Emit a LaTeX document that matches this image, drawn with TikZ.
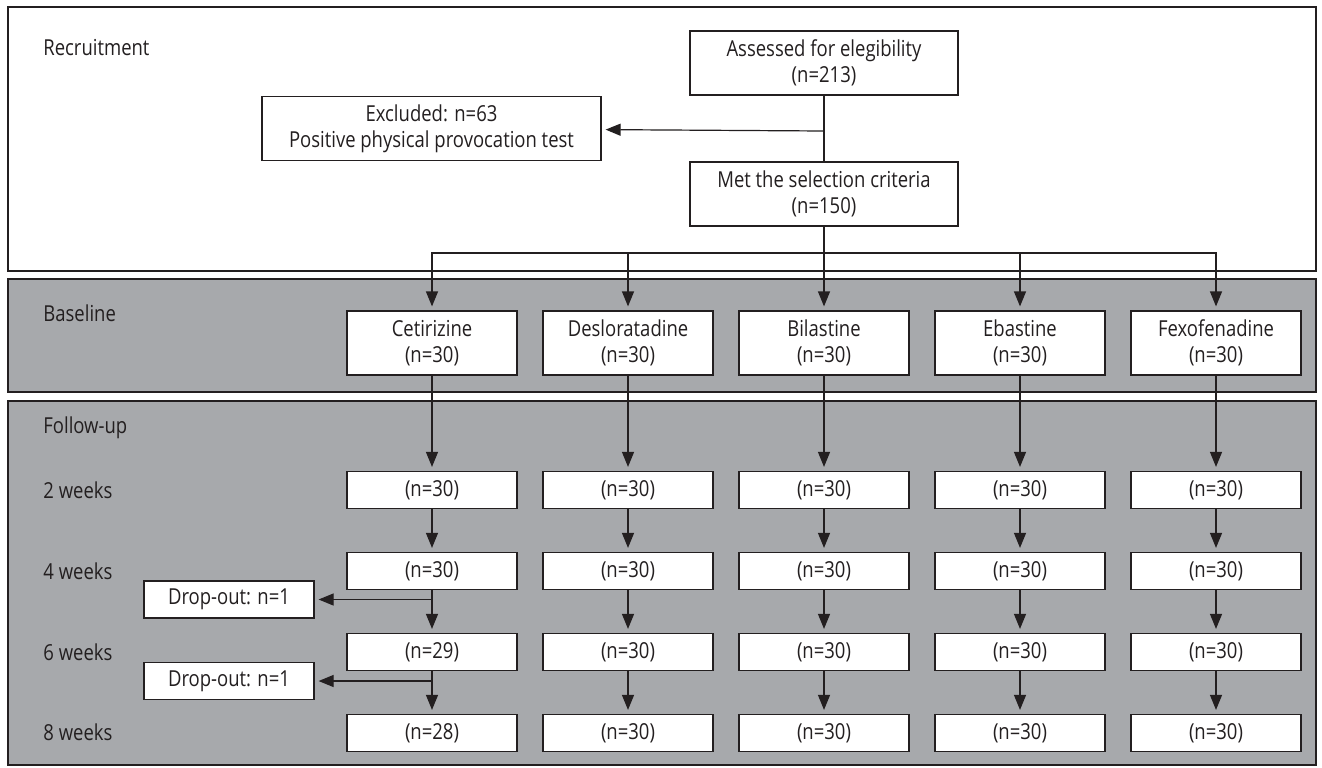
\documentclass[tikz,border=0pt]{standalone}
\usepackage{fontspec}
\setmainfont[FakeStretch=0.84]{Open Sans}
\usepackage{tikz}
\usetikzlibrary{positioning, arrows.meta}
\definecolor{panelgray}{RGB}{167,169,172}
\definecolor{inkgray}{RGB}{35,31,32}

\begin{document}
\begin{tikzpicture}[x=0.5pt, y=-0.5pt, node distance=40.5pt and 98pt, on grid,
        font=\fontsize{11}{12.8}\selectfont,
        box/.style={draw=inkgray, fill=white, line width=0.6pt, text=inkgray, align=center,
        minimum width=85pt, minimum height=18.5pt, inner sep=0pt},
        tall/.style={box, minimum height=32pt},
        panel/.style={draw=inkgray, line width=1.1pt},
        stage/.style={anchor=west, inner sep=0pt, text=inkgray},
        link/.style={draw=inkgray, line width=0.6pt},
        arr/.style={link, -{Triangle[length=7.5pt, width=6pt]}, shorten >=2pt}]
        \useasboundingbox (0,0) rectangle (1322,767);
        % the three stages
        \draw[panel, fill=white] (8,7) rectangle (1316,271);
        \draw[panel, fill=panelgray] (8,279) rectangle (1316,392);
        \draw[panel, fill=panelgray] (8,401) rectangle (1316,765);
        \node[stage] (recr) at (43,48) {Recruitment};
        \node[stage] (base) at (43,313) {Baseline};
        \node[stage] (fup) at (43,428) {Follow-up};
        \node[stage] (wk2) at (43,490) {2 weeks};
        \node[stage] (wk4) at (43,571) {4 weeks};
        \node[stage] (wk6) at (43,652) {6 weeks};
        \node[stage] (wk8) at (43,732) {8 weeks};

        % recruitment
        \node[tall, minimum width=134pt] (Assess) at (824,63) {Assessed for elegibility\\(n=213)};
        \node[tall, minimum width=134pt] (Met) [below=65.5pt of Assess] {Met the selection criteria\\(n=150)};
        \node[tall, minimum width=169.5pt] (Excl) at (431.5,128.5) {Excluded: n=63\\Positive physical provocation test};
        \coordinate (split) at (824,131);
        \coordinate (fork) at (824,253);

        % baseline
        \node[tall] (Cet) at (432,343) {Cetirizine\\(n=30)};
        \node[tall] (Des) [right=of Cet] {Desloratadine\\(n=30)};
        \node[tall] (Bil) [right=of Des] {Bilastine\\(n=30)};
        \node[tall] (Eba) [right=of Bil] {Ebastine\\(n=30)};
        \node[tall] (Fex) [right=of Eba] {Fexofenadine\\(n=30)};

        % follow-up
        \node[box] (Cet2) [below=73.5pt of Cet] {(n=30)};
        \node[box] (Cet4) [below=of Cet2] {(n=30)};
        \node[box] (Cet6) [below=of Cet4] {(n=29)};
        \node[box] (Cet8) [below=of Cet6] {(n=28)};
        \node[box] (Des2) [below=73.5pt of Des] {(n=30)};
        \node[box] (Des4) [below=of Des2] {(n=30)};
        \node[box] (Des6) [below=of Des4] {(n=30)};
        \node[box] (Des8) [below=of Des6] {(n=30)};
        \node[box] (Bil2) [below=73.5pt of Bil] {(n=30)};
        \node[box] (Bil4) [below=of Bil2] {(n=30)};
        \node[box] (Bil6) [below=of Bil4] {(n=30)};
        \node[box] (Bil8) [below=of Bil6] {(n=30)};
        \node[box] (Eba2) [below=73.5pt of Eba] {(n=30)};
        \node[box] (Eba4) [below=of Eba2] {(n=30)};
        \node[box] (Eba6) [below=of Eba4] {(n=30)};
        \node[box] (Eba8) [below=of Eba6] {(n=30)};
        \node[box] (Fex2) [below=73.5pt of Fex] {(n=30)};
        \node[box] (Fex4) [below=of Fex2] {(n=30)};
        \node[box] (Fex6) [below=of Fex4] {(n=30)};
        \node[box] (Fex8) [below=of Fex6] {(n=30)};
        \node[box] (Drop1) at (229,599.5) {Drop-out: n=1};
        \node[box] (Drop2) at (229,681) {Drop-out: n=1};

        % connectors
        \draw[link] (Assess) -- (Met);
        \draw[arr] (split) -- (Excl);
        \draw[link] (Met) -- (fork);
        \draw[arr] (fork) -| (Cet);
        \draw[arr] (fork) -| (Des);
        \draw[arr] (fork) -- (Bil);
        \draw[arr] (fork) -| (Eba);
        \draw[arr] (fork) -| (Fex);
        \draw[arr] (Cet) -- (Cet2); \draw[arr] (Cet2) -- (Cet4); \draw[arr] (Cet4) -- (Cet6); \draw[arr] (Cet6) -- (Cet8);
        \draw[arr] (Des) -- (Des2); \draw[arr] (Des2) -- (Des4); \draw[arr] (Des4) -- (Des6); \draw[arr] (Des6) -- (Des8);
        \draw[arr] (Bil) -- (Bil2); \draw[arr] (Bil2) -- (Bil4); \draw[arr] (Bil4) -- (Bil6); \draw[arr] (Bil6) -- (Bil8);
        \draw[arr] (Eba) -- (Eba2); \draw[arr] (Eba2) -- (Eba4); \draw[arr] (Eba4) -- (Eba6); \draw[arr] (Eba6) -- (Eba8);
        \draw[arr] (Fex) -- (Fex2); \draw[arr] (Fex2) -- (Fex4); \draw[arr] (Fex4) -- (Fex6); \draw[arr] (Fex6) -- (Fex8);
        \draw[arr] (Cet4 |- Drop1) -- (Drop1);
        \draw[arr] (Cet6 |- Drop2) -- (Drop2);
\end{tikzpicture}
\end{document}
